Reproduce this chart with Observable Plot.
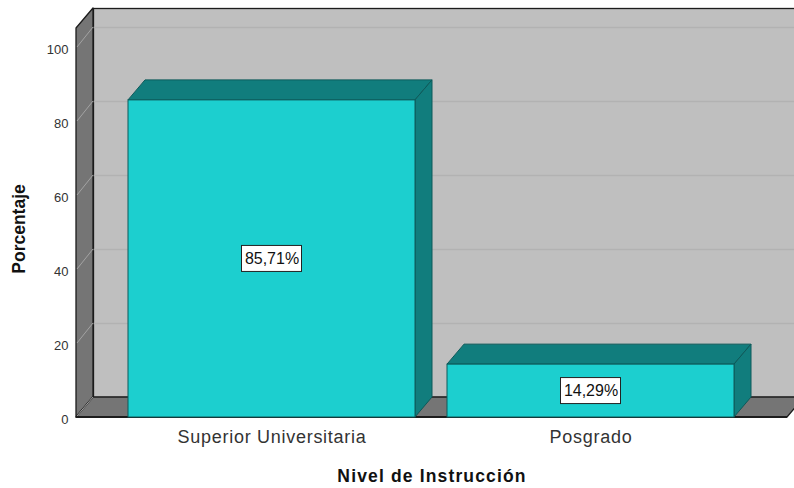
<!DOCTYPE html>
<html><head><meta charset="utf-8">
<style>html,body{margin:0;padding:0;background:#fff;overflow:hidden}svg{display:block}</style>
<script src="https://cdn.jsdelivr.net/npm/d3@7"></script>
<script src="https://cdn.jsdelivr.net/npm/@observablehq/plot@0.6"></script>
</head><body><div id="chart"></div>
<script>
const categories = ["Superior Universitaria", "Posgrado"];
const percentages = [85.71, 14.29];
const valueLabels = ["85,71%", "14,29%"];
const yTicks = [0, 20, 40, 60, 80, 100];
const xTitle = "Nivel de Instrucción";
const yTitle = "Porcentaje";

const rows = categories.map((c, i) => ({category: c, value: percentages[i], label: valueLabels[i]}));
const DX = 17, DY = -20, BOX_W = 60, BOX_H = 26;
const FONT = "'Liberation Sans', Arial, sans-serif";
const NS = "http://www.w3.org/2000/svg";

function svgEl(name, attrs) {
  const e = document.createElementNS(NS, name);
  for (const k in attrs) e.setAttribute(k, attrs[k]);
  return e;
}
const pathOf = pts => "M" + pts.map(p => p.join(",")).join("L") + "Z";
const spaced = amount => (i, s, v, d, c, next) => {
  const g = next(i, s, v, d, c);
  g.setAttribute("letter-spacing", amount);
  return g;
};

// Oblique faces of the bars, projected from the position scales
const barFaces = (index, s, v, d, ctx) => {
  const g = svgEl("g", {});
  const bw = s.x.bandwidth();
  for (const r of rows) {
    const x0 = s.x(r.category), x1 = x0 + bw, y0 = s.y(0), y1 = s.y(r.value);
    const style = {fill: "#117d7d", stroke: "#0d5a5a", "stroke-width": 1, "stroke-linejoin": "round"};
    g.append(svgEl("path", {d: pathOf([[x0,y1],[x0+DX,y1+DY],[x1+DX,y1+DY],[x1,y1]]), ...style}));
    g.append(svgEl("path", {d: pathOf([[x1,y1],[x1+DX,y1+DY],[x1+DX,y0+DY],[x1,y0]]), ...style}));
  }
  return g;
};

// Left wall and floor of the box
const boxFaces = (index, s, v, d) => {
  const g = svgEl("g", {});
  const L = d.marginLeft, R = d.width - d.marginRight, B = s.y(0), T = d.marginTop;
  const style = {fill: "#757575", stroke: "#1c1c1c", "stroke-width": 1.3, "stroke-linejoin": "round"};
  g.append(svgEl("path", {d: pathOf([[L,T],[L+DX,T+DY],[L+DX,B+DY],[L,B]]), ...style}));
  g.append(svgEl("path", {d: pathOf([[L,B],[L+DX,B+DY],[R+DX,B+DY],[R,B]]), ...style}));
  for (const t of yTicks) {
    if (t === 0) continue;
    g.append(svgEl("line", {x1: L + 1, y1: s.y(t), x2: L + DX, y2: s.y(t) + DY, stroke: "#a3a3a3", "stroke-width": 1}));
  }
  g.append(svgEl("line", {x1: L + 1, y1: B - 1, x2: L + DX, y2: B + DY, stroke: "#a3a3a3", "stroke-width": 1}));
  g.append(svgEl("line", {x1: L, y1: B, x2: R, y2: B, stroke: "#1c1c1c", "stroke-width": 2}));
  return g;
};

// White boxes behind the value labels
const labelBoxes = (index, s) => {
  const g = svgEl("g", {});
  const bw = s.x.bandwidth();
  for (const r of rows) {
    g.append(svgEl("rect", {
      x: s.x(r.category) + bw / 2 - BOX_W / 2,
      y: s.y(r.value / 2) - BOX_H / 2,
      width: BOX_W, height: BOX_H, fill: "#fff", stroke: "#222", "stroke-width": 1
    }));
  }
  return g;
};

const plot = Plot.plot({
  width: 794, height: 488,
  marginLeft: 76, marginRight: 7, marginTop: 28, marginBottom: 71,
  style: {background: "#fff", fontFamily: FONT, overflow: "hidden"},
  x: {domain: categories, paddingInner: 0.1, paddingOuter: 0.1625, label: null},
  y: {domain: [0, 105.14], label: null},
  marks: [
    Plot.frame({fill: "#bfbfbf", stroke: "#1c1c1c", strokeWidth: 1.3, dx: DX, dy: DY}),
    Plot.gridY(yTicks.slice(1), {stroke: "#b2b2b2", strokeOpacity: 1, strokeWidth: 1.5, dx: DX, dy: DY}),
    Plot.ruleY([0], {stroke: "none", render: boxFaces}),
    Plot.barY(rows, {x: "category", y: "value", stroke: "none", render: barFaces}),
    Plot.barY(rows, {x: "category", y: "value", fill: "#1ccfcf", stroke: "#0d5a5a", strokeWidth: 1}),
    Plot.axisY({ticks: yTicks, tickSize: 0, tickPadding: 8, dy: 2, fontSize: 13, color: "#333", label: null}),
    Plot.axisX({tickSize: 0, tickPadding: 13, fontSize: 18, color: "#333", label: null, render: spaced(0.72)}),
    Plot.dot(rows, {x: "category", y: d => d.value / 2, r: 0, render: labelBoxes}),
    Plot.text(rows, {x: "category", y: d => d.value / 2, text: "label", fontSize: 16, fill: "#111"}),
    Plot.text([xTitle], {frameAnchor: "bottom", dy: 64, fontSize: 17.5, fontWeight: "bold", fill: "#111", render: spaced(1.15)}),
    Plot.text([yTitle], {frameAnchor: "left", textAnchor: "middle", dx: -57, dy: 6, rotate: -90, fontSize: 17.5, fontWeight: "bold", fill: "#111"})
  ]
});
document.getElementById("chart").append(plot);
</script></body></html>
